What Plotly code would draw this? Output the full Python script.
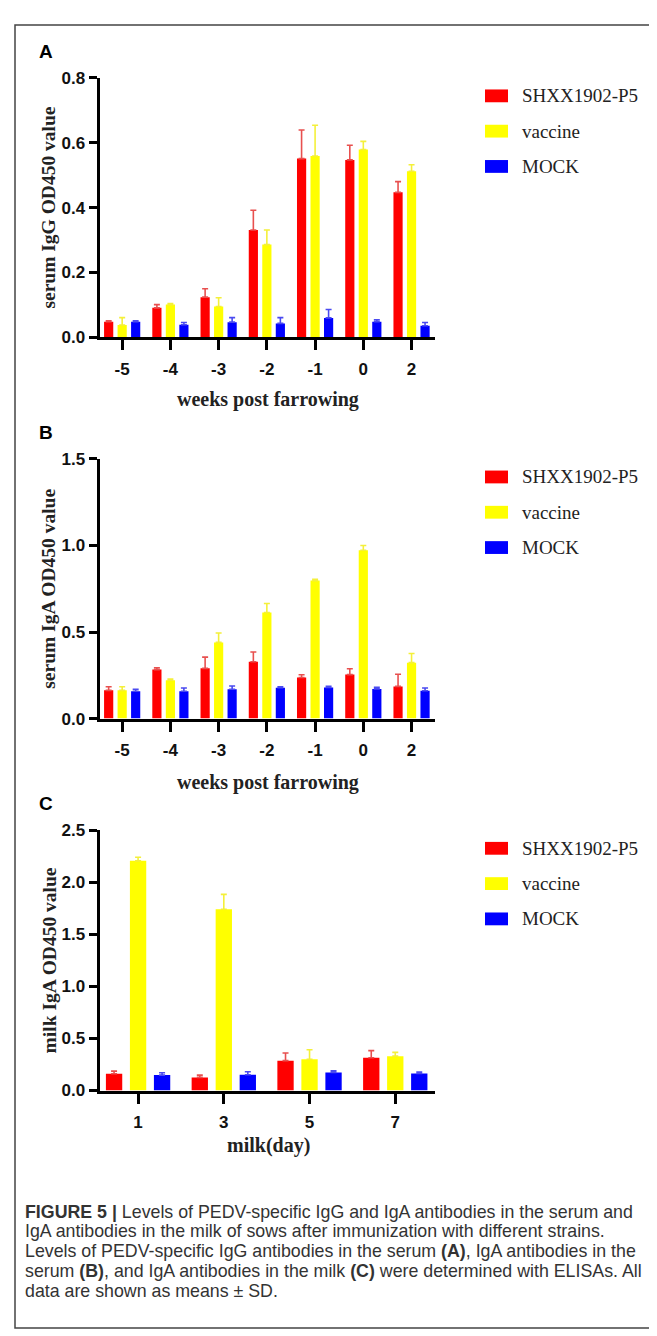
import plotly.graph_objects as go

W, H = 657, 1336

# ---------------- data ----------------
series_names = ["SHXX1902-P5", "vaccine", "MOCK"]
bar_colors = ["#ff0000", "#ffff00", "#0000ff"]
err_colors = ["#e8504f", "#f4f03a", "#4a4af0"]

weeks = ["-5", "-4", "-3", "-2", "-1", "0", "2"]
days = ["1", "3", "5", "7"]

igg_shxx = [0.048, 0.091, 0.124, 0.331, 0.551, 0.547, 0.447]
igg_shxx_sd = [0.003, 0.010, 0.026, 0.061, 0.088, 0.045, 0.033]
igg_vaccine = [0.038, 0.101, 0.095, 0.286, 0.559, 0.579, 0.512]
igg_vaccine_sd = [0.023, 0.003, 0.027, 0.045, 0.095, 0.025, 0.020]
igg_mock = [0.048, 0.039, 0.047, 0.043, 0.060, 0.048, 0.036]
igg_mock_sd = [0.003, 0.007, 0.014, 0.018, 0.026, 0.006, 0.010]

iga_shxx = [0.163, 0.283, 0.290, 0.328, 0.237, 0.254, 0.186]
iga_shxx_sd = [0.021, 0.011, 0.065, 0.057, 0.016, 0.034, 0.070]
iga_vaccine = [0.163, 0.222, 0.440, 0.613, 0.797, 0.972, 0.323]
iga_vaccine_sd = [0.021, 0.006, 0.054, 0.052, 0.008, 0.028, 0.053]
iga_mock = [0.158, 0.158, 0.169, 0.178, 0.180, 0.171, 0.161]
iga_mock_sd = [0.011, 0.019, 0.019, 0.006, 0.006, 0.009, 0.016]

milk_shxx = [0.161, 0.126, 0.287, 0.315]
milk_shxx_sd = [0.025, 0.022, 0.073, 0.068]
milk_vaccine = [2.206, 1.742, 0.300, 0.330]
milk_vaccine_sd = [0.035, 0.142, 0.091, 0.036]
milk_mock = [0.148, 0.152, 0.174, 0.164]
milk_mock_sd = [0.022, 0.028, 0.015, 0.013]

panel_letters = ["A", "B", "C"]
y_titles = ["serum IgG OD450 value", "serum IgA OD450 value", "milk IgA OD450 value"]
x_titles = ["weeks post farrowing", "weeks post farrowing", "milk(day)"]
y_ranges = [[0, 0.8], [0, 1.5], [0, 2.5]]
y_dticks = [0.2, 0.5, 0.5]

caption_lines = [
    "<b>FIGURE 5 |</b> Levels of PEDV-specific IgG and IgA antibodies in the serum and",
    "IgA antibodies in the milk of sows after immunization with different strains.",
    "Levels of PEDV-specific IgG antibodies in the serum <b>(A)</b>, IgA antibodies in the",
    "serum <b>(B)</b>, and IgA antibodies in the milk <b>(C)</b> were determined with ELISAs. All",
    "data are shown as means \u00b1 SD.",
]

panels = [
    dict(cats=weeks, vals=[igg_shxx, igg_vaccine, igg_mock],
         sds=[igg_shxx_sd, igg_vaccine_sd, igg_mock_sd]),
    dict(cats=weeks, vals=[iga_shxx, iga_vaccine, iga_mock],
         sds=[iga_shxx_sd, iga_vaccine_sd, iga_mock_sd]),
    dict(cats=days, vals=[milk_shxx, milk_vaccine, milk_mock],
         sds=[milk_shxx_sd, milk_vaccine_sd, milk_mock_sd]),
]

# ---------------- layout geometry (page pixels) ----------------
X_LEFT, X_RIGHT = 91.5, 426.7
PANEL_TOP = [61.7, 448.3, 825.0]
PANEL_BOT = [325.0, 711.7, 1089.0]
X_RANGES = [[-0.47, 6.48], [-0.47, 6.48], [-0.45, 3.46]]
XTITLE_OFF = [63, 65, 56]


def px(x):
    return x / W


def py(y):
    return 1 - y / H


fig = go.Figure()
annotations = []
shapes = []

serif = "Liberation Serif, Times New Roman, serif"
sans = "Liberation Sans, Arial, sans-serif"

for i, p in enumerate(panels):
    xa = "x" if i == 0 else f"x{i+1}"
    ya = "y" if i == 0 else f"y{i+1}"
    for s in range(3):
        fig.add_trace(go.Bar(
            x=p["cats"], y=p["vals"][s], name=series_names[s],
            marker=dict(color=bar_colors[s], line=dict(width=0)),
            error_y=dict(type="data", array=p["sds"][s], symmetric=False,
                         arrayminus=[0] * len(p["sds"][s]),
                         color=err_colors[s], thickness=1.6, width=3),
            xaxis=xa, yaxis=ya, showlegend=False,
        ))
    top, bot = PANEL_TOP[i], PANEL_BOT[i]
    xkey = "xaxis" if i == 0 else f"xaxis{i+1}"
    ykey = "yaxis" if i == 0 else f"yaxis{i+1}"
    fig.layout[xkey] = dict(
        domain=[px(X_LEFT), px(X_RIGHT)], anchor=ya, type="category",
        categoryorder="array", categoryarray=p["cats"], range=X_RANGES[i],
        showline=True, linewidth=3, linecolor="#000", showgrid=False, zeroline=False,
        ticks="outside", ticklen=10, tickwidth=3, tickcolor="#000",
        tickfont=dict(family=sans, size=17, color="#111", weight="bold"),
        ticklabelstandoff=4,
    )
    fig.layout[ykey] = dict(
        domain=[py(bot), py(top)], anchor=xa, range=y_ranges[i],
        dtick=y_dticks[i], tick0=0, tickformat=".1f",
        showline=True, linewidth=3, linecolor="#000", showgrid=False, zeroline=False,
        ticks="outside", ticklen=8, tickwidth=3, tickcolor="#000",
        tickfont=dict(family=sans, size=17, color="#111", weight="bold"),
    )
    # panel letter
    annotations.append(dict(x=px(38), y=py(top - 27), xref="paper", yref="paper",
                            text=f"<b>{panel_letters[i]}</b>", showarrow=False,
                            xanchor="center", yanchor="middle",
                            font=dict(family=sans, size=19, color="#000")))
    # y title
    annotations.append(dict(x=px(41), y=py((top + bot) / 2), xref="paper", yref="paper",
                            text=f"<b>{y_titles[i]}</b>", showarrow=False, textangle=-90,
                            xanchor="center", yanchor="middle",
                            font=dict(family=serif, size=19.5, color="#222")))
    # x title
    annotations.append(dict(x=px(260), y=py(bot + XTITLE_OFF[i]), xref="paper", yref="paper",
                            text=f"<b>{x_titles[i]}</b>", showarrow=False,
                            xanchor="center", yanchor="middle",
                            font=dict(family=serif, size=20, color="#222")))
    # legend
    for s in range(3):
        yc = top + 18.3 + s * 35.8
        shapes.append(dict(type="rect", xref="paper", yref="paper",
                           x0=px(477), x1=px(500), y0=py(yc - 6.5), y1=py(yc + 6.5),
                           fillcolor=bar_colors[s], line=dict(width=0)))
        annotations.append(dict(x=px(512), y=py(yc), xref="paper", yref="paper",
                                text=series_names[s], showarrow=False,
                                xanchor="left", yanchor="middle",
                                font=dict(family=serif, size=19, color="#222")))

# caption
for k, line in enumerate(caption_lines):
    annotations.append(dict(x=px(15), y=py(1212 + k * 20), xref="paper", yref="paper",
                            text=line, showarrow=False, xanchor="left", yanchor="middle",
                            font=dict(family=sans, size=17.8, color="#333")))

# frame
shapes.append(dict(type="rect", xref="paper", yref="paper",
                   x0=px(7), x1=px(680), y0=py(1330), y1=py(8),
                   line=dict(color="#444", width=1.5), fillcolor="rgba(0,0,0,0)"))

fig.update_layout(
    width=W, height=H, margin=dict(l=0, r=0, t=0, b=0),
    paper_bgcolor="white", plot_bgcolor="white",
    barmode="group", bargap=0.16, bargroupgap=0.32,
    annotations=annotations, shapes=shapes, showlegend=False,
)

fig.write_html("out.html")
